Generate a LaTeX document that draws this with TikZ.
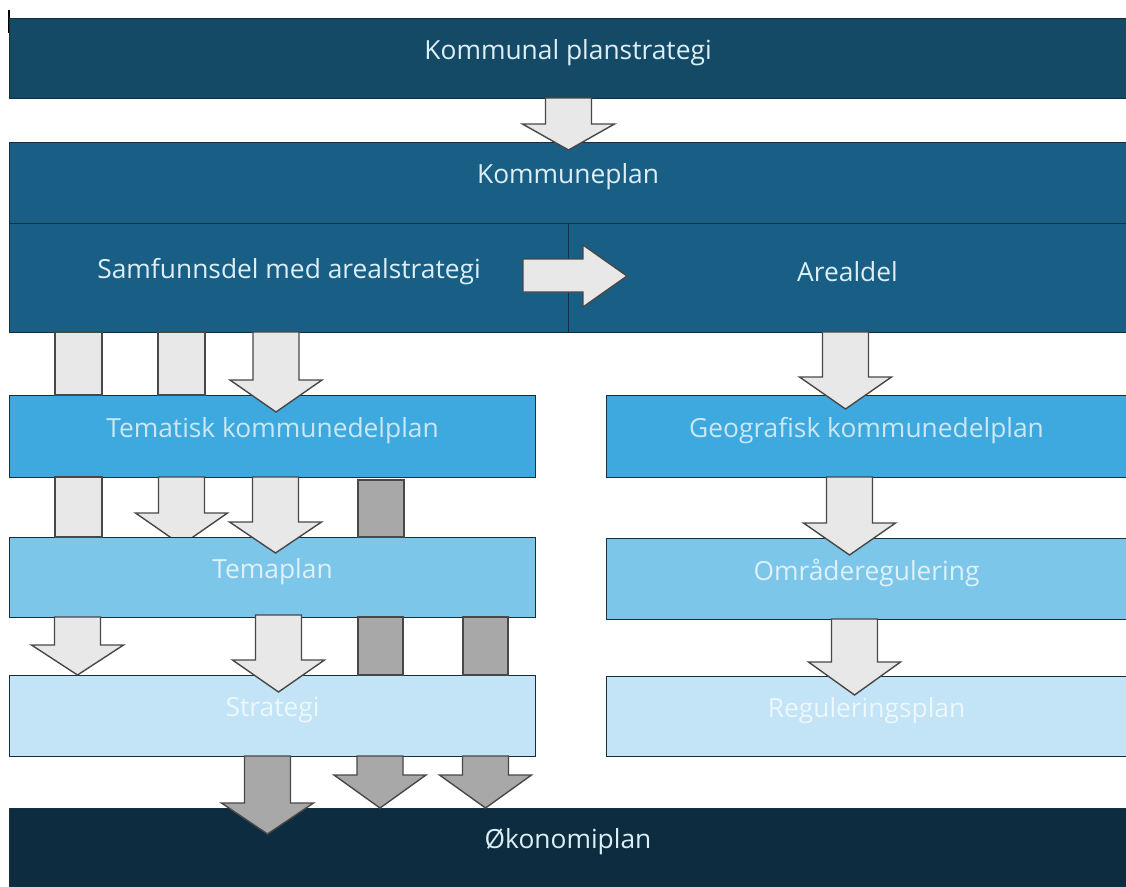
\documentclass[tikz,border=0pt]{standalone}
\usepackage{fontspec}
\setmainfont{Open Sans}
\definecolor{planDark}{HTML}{144A66}
\definecolor{planMid}{HTML}{195E84}
\definecolor{delBlue}{HTML}{3EA9DF}
\definecolor{temaBlue}{HTML}{7CC6EA}
\definecolor{stratBlue}{HTML}{C2E4F6}
\definecolor{okoDark}{HTML}{0D2C3F}
\definecolor{boxLine}{HTML}{13303F}
\definecolor{arrLight}{HTML}{E8E8E8}
\definecolor{arrGrey}{HTML}{A8A8A8}
\definecolor{arrEdge}{HTML}{484848}
\definecolor{txtLight}{HTML}{DCEEF6}
\begin{document}
\begin{tikzpicture}
[
    x=0.02cm, y=-0.02cm,
    box/.style 2 args={draw=boxLine, line width=0.6pt, inner sep=0pt, anchor=north west,
        minimum width=#1*0.02cm, minimum height=#2*0.02cm},
    lbl/.style={font=\fontsize{15}{17}\selectfont, text=txtLight, yshift=0.12cm},
    larrow/.style={fill=arrLight, draw=arrEdge, line width=0.8pt},
    garrow/.style={fill=arrGrey, draw=arrEdge, line width=0.8pt},
]
\useasboundingbox (0,0) rectangle (1126,886);
\draw[line width=1pt] (9,10) -- (9,33);
% top level
\node[box={1117}{80}, fill=planDark, label={[lbl]center:Kommunal planstrategi}] (strat) at (9,18) {};
\node[box={1117}{81}, fill=planMid, label={[lbl]center:Kommuneplan}] (kplan) at (9,142) {};
\node[box={559}{109}, fill=planMid, label={[lbl]center:Samfunnsdel med arealstrategi}] (samf) at (9,223) {};
\node[box={558}{109}, fill=planMid, label={[lbl]center:Arealdel}] (areal) at (568,223) {};
% left column
\node[box={526}{82}, fill=delBlue, label={[lbl, text=txtLight!90!delBlue]center:Tematisk kommunedelplan}] (tkdp) at (9,395) {};
\draw[larrow] (158.5,477) -- (158.5,513) -- (135.5,513) -- (181.5,545) -- (227.5,513) -- (204.5,513) -- (204.5,477) -- cycle;
\node[box={526}{80}, fill=temaBlue, label={[lbl, text=white!75!temaBlue]center:Temaplan}] (tema) at (9,537) {};
\node[box={526}{81}, fill=stratBlue, label={[lbl, text=white!70!stratBlue]center:Strategi}] (strg) at (9,675) {};
% right column
\node[box={520}{82}, fill=delBlue, label={[lbl, text=txtLight!90!delBlue]center:Geografisk kommunedelplan}] (gkdp) at (606,395) {};
\node[box={520}{81}, fill=temaBlue, label={[lbl, text=white!75!temaBlue]center:Områderegulering}] (omr) at (606,538) {};
\node[box={520}{80}, fill=stratBlue, label={[lbl, text=white!70!stratBlue]center:Reguleringsplan}] (reg) at (606,676) {};
% bottom
\node[box={1117}{78}, fill=okoDark, label={[lbl]center:Økonomiplan}] (oko) at (9,808) {};
% bars passing between boxes
\foreach \a/\b/\c/\d in {55/332/102/395, 158/332/205/395, 55/477/102/537}
    \draw[larrow] (\a,\b) rectangle (\c,\d);
\foreach \a/\b/\c/\d in {358/480/404/537, 358/617/403/675, 463/617/508/675}
    \draw[garrow] (\a,\b) rectangle (\c,\d);
% block arrows
\foreach \x/\t/\h/\e in {568.5/98/124/150, 276/332/380/412, 275.5/477/522/553,
    77.5/617/645/675, 278.5/615/660/692, 845.5/332/377/409, 849.5/477/523/555, 854.5/619/662/695}
    \draw[larrow] (\x-23,\t) -- (\x-23,\h) -- (\x-46,\h) -- (\x,\e) -- (\x+46,\h) -- (\x+23,\h) -- (\x+23,\t) -- cycle;
\foreach \x/\t/\h/\e in {267.5/756/803/834, 380/756/775/808, 485.5/756/775/808}
    \draw[garrow] (\x-23,\t) -- (\x-23,\h) -- (\x-46,\h) -- (\x,\e) -- (\x+46,\h) -- (\x+23,\h) -- (\x+23,\t) -- cycle;
\draw[larrow] (523,259) -- (583,259) -- (583,245) -- (627,276) -- (583,307) -- (583,292) -- (523,292) -- cycle;
\end{tikzpicture}
\end{document}
